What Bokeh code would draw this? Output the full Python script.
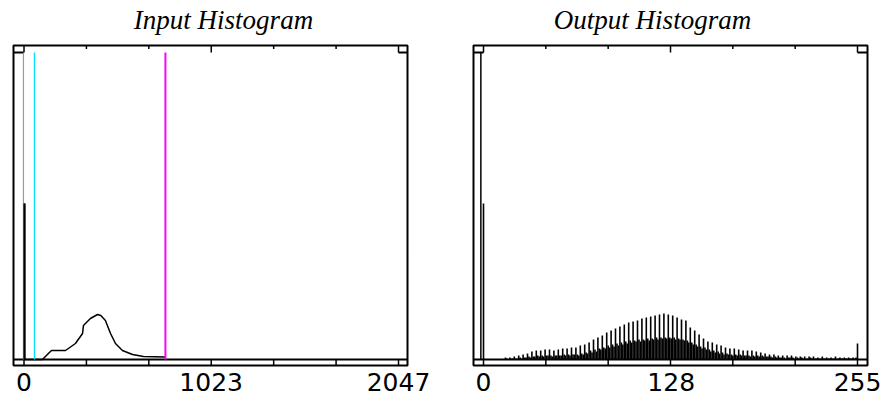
from bokeh.plotting import figure
from bokeh.layouts import row
from bokeh.models import Range1d
from bokeh.core.properties import value
from bokeh.embed import file_html
from bokeh.resources import INLINE

# ---------------- data ----------------
input_title = "Input Histogram"
output_title = "Output Histogram"

# input histogram curve (grey level, count)
in_x = [3, 3, 101, 128, 150, 227, 281, 320, 325, 363, 402, 420, 445, 473, 500, 538, 593, 653, 773]
in_y = [1560, 0, 0, 50, 90, 90, 160, 260, 340, 410, 450, 440, 390, 260, 160, 90, 50, 30, 25]
low_cut = 57      # cyan marker
high_cut = 773    # magenta marker
in_max = 2047
in_tick_marks = [0, 341.17, 682.33, 1023.5, 1364.67, 1705.83, 2047]
in_label_pos = [0, 1023, 2047]
in_labels = ["0", "1023", "2047"]

# output histogram: one count per output level 0..255
out_counts = [
    1560,
    0, 0, 0, 0, 0, 0, 0, 0, 0, 0, 0, 0, 0, 0,
    20, 10, 0, 20, 10, 10, 30, 10, 10, 40, 20, 10,
    50, 20, 20, 60, 30, 20, 80, 30, 30, 90, 40, 30,
    90, 40, 30, 100, 40, 40, 100, 40, 30, 90, 40, 40,
    100, 40, 40, 110, 50, 40, 110, 50, 40, 120, 50, 50,
    120, 50, 40, 140, 60, 50, 150, 70, 60, 170, 90, 70,
    200, 100, 80, 220, 110, 100, 240, 120, 110, 270, 140, 120,
    290, 150, 130, 310, 160, 140, 330, 170, 150, 350, 180, 160,
    370, 190, 170, 380, 190, 180, 390, 200, 180, 410, 200, 190,
    420, 210, 190, 430, 210, 200, 440, 220, 200, 450, 220, 210,
    460, 220, 210, 450, 220, 210, 440, 220, 200, 420, 210, 200,
    400, 200, 190, 390, 190, 170, 320, 170, 150, 290, 150, 130,
    250, 130, 110, 210, 120, 100, 180, 100, 80, 170, 90, 70,
    150, 80, 60, 140, 70, 50, 120, 60, 50, 110, 50, 40,
    110, 50, 40, 100, 50, 40, 90, 40, 40, 90, 40, 30,
    90, 40, 30, 80, 40, 30, 70, 40, 30, 60, 30, 30,
    50, 30, 20, 50, 30, 20, 40, 20, 20, 40, 20, 10,
    40, 20, 20, 40, 20, 10, 30, 20, 10, 30, 20, 10,
    30, 10, 10, 30, 20, 10, 30, 10, 10, 20, 10, 10,
    30, 10, 10, 20, 10, 10, 20, 10, 10, 30, 10, 10,
    20, 10, 10, 20, 10, 10, 20, 10, 10, 20, 10, 20,
    160,
]
assert len(out_counts) == 256
out_levels = list(range(256))
out_max = 255
out_tick_marks = [0, 42.5, 85, 127.5, 170, 212.5, 255]
out_label_pos = [0, 128, 255]
out_labels = ["0", "128", "255"]

# ---------------- helpers ----------------
Y_TOP_INNER = 3070
Y_TOP_OUTER = 3140
Y_BOTTOM_OUTER = -60
LABEL_FONT = value("DejaVu Sans")
TITLE_FONT = value("Liberation Serif")
H = 396


def make_panel(width, xr, frame_l, frame_r, ticks, dmin, dmax, mid, title, title_x,
               label_pos, labels):
    p = figure(width=width, height=H, x_range=Range1d(*xr), y_range=Range1d(-370, 3590),
               output_backend="svg", toolbar_location=None,
               x_axis_location=None, y_axis_location=None, min_border=0)
    p.grid.visible = False
    p.outline_line_color = None
    p.background_fill_color = "white"
    p.border_fill_color = "white"

    # outer frame
    p.quad(left=[frame_l], right=[frame_r], bottom=[Y_BOTTOM_OUTER], top=[Y_TOP_OUTER],
           fill_color=None, line_color="black", line_width=2)
    # baseline
    p.segment(x0=[frame_l], y0=[0], x1=[frame_r], y1=[0], line_color="black", line_width=2)
    # bottom ticks
    p.segment(x0=ticks, y0=[Y_BOTTOM_OUTER] * len(ticks), x1=ticks, y1=[0] * len(ticks),
              line_color="black", line_width=1.5)
    # top ticks: ends & middle long, others short
    tops = [Y_TOP_INNER if t in (dmin, dmax, mid) else 3105 for t in ticks]
    p.segment(x0=ticks, y0=[Y_TOP_OUTER] * len(ticks), x1=ticks, y1=tops,
              line_color="black", line_width=1.5)
    # corner boxes
    p.segment(x0=[frame_l, dmax], y0=[Y_TOP_INNER] * 2, x1=[dmin, frame_r], y1=[Y_TOP_INNER] * 2,
              line_color="black", line_width=2)
    # title
    p.text(x=[title_x], y=[3400], text=[title], text_font=TITLE_FONT, text_font_style="italic",
           text_font_size="27px", text_align="center", text_baseline="alphabetic",
           text_color="black")
    # tick labels
    p.text(x=label_pos, y=[-225] * len(label_pos), text=labels, text_font=LABEL_FONT,
           text_font_size="25px", text_align="center", text_baseline="alphabetic",
           text_color="black")
    return p


# ---------------- left panel (page x 0..444) ----------------
kx1 = in_max / 374.5
p1 = make_panel(444, ((0 - 23.5) * kx1, (444 - 23.5) * kx1), (13 - 23.5) * kx1, (407 - 23.5) * kx1,
                in_tick_marks, 0, in_max, 1023.5, input_title, (223 - 23.5) * kx1,
                in_label_pos, in_labels)
p1.segment(x0=[-3], y0=[0], x1=[-3], y1=[Y_TOP_INNER], line_color="#9a9a9a", line_width=1.2)
p1.line(in_x, in_y, line_color="black", line_width=1.5)
p1.segment(x0=[in_x[0]], y0=[0], x1=[in_x[0]], y1=[in_y[0]], line_color="black", line_width=2)
p1.segment(x0=[low_cut], y0=[0], x1=[low_cut], y1=[Y_TOP_INNER], line_color="#00e5ff", line_width=1.3)
p1.segment(x0=[high_cut], y0=[0], x1=[high_cut], y1=[Y_TOP_INNER], line_color="#ff00ff", line_width=2)

# ---------------- right panel (page x 444..888) ----------------
kx2 = out_max / 374.0
p2 = make_panel(444, ((444 - 483) * kx2, (888 - 483) * kx2), (473 - 483) * kx2, (867 - 483) * kx2,
                out_tick_marks, 0, out_max, 127.5, output_title, (652 - 483) * kx2,
                out_label_pos, out_labels)
p2.segment(x0=[-1.8], y0=[0], x1=[-1.8], y1=[Y_TOP_INNER], line_color="black", line_width=1.5)
p2.segment(x0=out_levels, y0=[0] * 256, x1=out_levels, y1=out_counts, line_color="black", line_width=1.6)

layout = row(p1, p2)
open("out.html", "w").write(file_html(layout, INLINE))
